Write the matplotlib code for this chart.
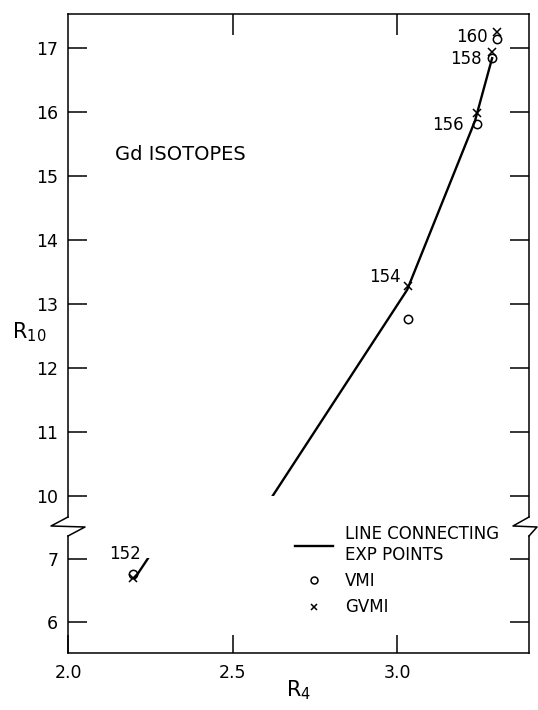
import matplotlib
matplotlib.use("Agg")
import matplotlib.pyplot as plt
from matplotlib.lines import Line2D
from matplotlib.patches import Rectangle

# isotope labels and model points
isotopes = ['152', '154', '156', '158', '160']
model_r4 = [2.197, 3.033, 3.242, 3.288, 3.303]
vmi_r10 = [6.76, 12.77, 15.81, 16.84, 17.14]
gvmi_r10 = [6.70, 13.28, 15.98, 16.94, 17.25]

# experimental points joined by the solid line
exp_r4 = [2.203, 3.03, 3.236, 3.288]
exp_r10 = [6.70, 13.22, 15.86, 16.84]

plt.rcParams['font.family'] = 'DejaVu Sans'

fig = plt.figure(figsize=(5.38, 7.1), dpi=100)
W, H = 538.0, 710.0
left, right = 68 / W, 529 / W
ax_top = fig.add_axes([left, 1 - 517 / H, right - left, (517 - 14) / H])
ax_low = fig.add_axes([left, 1 - 653 / H, right - left, (653 - 536) / H])

for ax in (ax_top, ax_low):
    ax.set_xlim(2.0, 3.4)
    ax.plot(model_r4, vmi_r10, linestyle='none', marker='o', ms=6, mfc='none',
            mec='black', mew=1.1)
    ax.plot(model_r4, gvmi_r10, linestyle='none', marker='x', ms=6,
            color='black', mew=1.1)
    for s in ax.spines.values():
        s.set_linewidth(1.1)
    ax.tick_params(axis='y', direction='in', length=14, width=1.1, left=True,
                   right=True, labelsize=12.5, pad=7)

ax_top.set_ylim(9.67, 17.53)
ax_low.set_ylim(5.51, 7.37)
ax_top.set_yticks(range(10, 18))
ax_low.set_yticks([6, 7])

# experimental line, hidden inside the broken part of the axis
l1, = ax_top.plot(exp_r4, exp_r10, color='black', lw=1.7)
l1.set_clip_path(Rectangle((2.0, 10.0), 1.4, 8, transform=ax_top.transData))
l2, = ax_low.plot(exp_r4, exp_r10, color='black', lw=1.7)
l2.set_clip_path(Rectangle((2.0, 5.0), 1.4, 2.02, transform=ax_low.transData))

ax_top.spines['bottom'].set_visible(False)
ax_low.spines['top'].set_visible(False)
ax_top.set_xticks([2.5, 3.0])
ax_top.tick_params(axis='x', direction='in', length=15, width=1.1, top=True,
                   bottom=False, labelbottom=False)
ax_low.set_xticks([2.0, 2.5, 3.0])
ax_low.set_xticklabels(['2.0', '2.5', '3.0'])
ax_low.tick_params(axis='x', direction='in', length=13, width=1.1, top=False,
                   labelsize=12.5, pad=8)

ax_low.set_xlabel('R$_{\\mathregular{4}}$', fontsize=15, labelpad=-3)
fig.text(12 / W, 1 - 332 / H, 'R$_{\\mathregular{10}}$', fontsize=15,
         ha='left', va='center')

# break marks on both sides
def zigzag(xpx, out, inn):
    xs = [xpx, xpx - out, xpx + inn, xpx]
    ys = [517, 526, 527, 536]
    fig.add_artist(Line2D([x / W for x in xs], [1 - y / H for y in ys],
                          transform=fig.transFigure, color='black', lw=1.1))

zigzag(68, 17, 17)
zigzag(529, 16, 8)

# isotope labels
offsets = [(-8, 20, 'center', 'o'), (-7, 9, 'right', 'x'), (-13, -1, 'right', 'o'),
           (-10, -1, 'right', 'o'), (-9, 2, 'right', 'o')]
for name, x, yo, yx, (dx, dy, ha, ref) in zip(isotopes, model_r4, vmi_r10,
                                              gvmi_r10, offsets):
    y = yo if ref == 'o' else yx
    ax = ax_low if y < 8 else ax_top
    ax.annotate(name, (x, y), xytext=(dx, dy), textcoords='offset pixels',
                ha=ha, va='center', fontsize=12)

ax_top.text(2.142, 15.33, 'Gd ISOTOPES', fontsize=14, ha='left', va='center')

handles = [Line2D([], [], color='black', lw=1.7),
           Line2D([], [], linestyle='none', marker='o', ms=5, mfc='none',
                  mec='black', mew=1.1),
           Line2D([], [], linestyle='none', marker='x', ms=5, color='black',
                  mew=1.1)]
ax_low.legend(handles, ['LINE CONNECTING\nEXP POINTS', 'VMI', 'GVMI'],
              loc='upper left', bbox_to_anchor=(295 / W, 1 - 525 / H),
              bbox_transform=fig.transFigure, frameon=False, fontsize=12,
              handlelength=2.3, handletextpad=0.7, labelspacing=0.5,
              borderaxespad=0, borderpad=0)

fig.savefig('out.png', dpi=100)
